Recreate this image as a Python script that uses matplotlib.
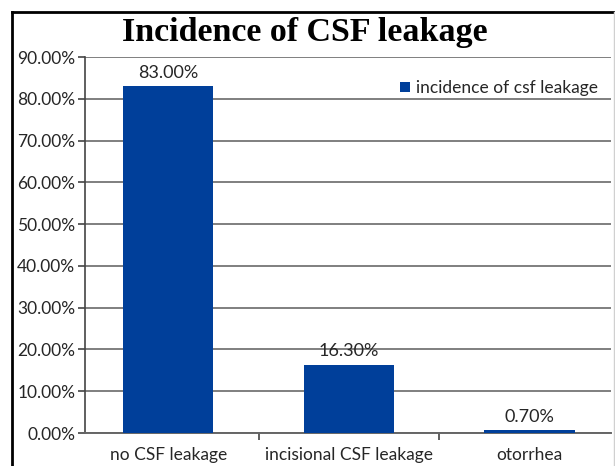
import matplotlib.pyplot as plt
from matplotlib.lines import Line2D

categories = ['no CSF leakage', 'incisional CSF leakage', 'otorrhea']
values = [83.0, 16.3, 0.7]
yticks = [0, 10, 20, 30, 40, 50, 60, 70, 80, 90]
series_name = 'incidence of csf leakage'

bar_color = '#003f9a'
grid_color = '#7f7f7f'
text_color = '#262626'

plt.rcParams['font.family'] = ['Lato', 'DejaVu Sans']

fig = plt.figure(figsize=(6.15, 4.66), dpi=100)
W, H = 615, 466
ax = fig.add_axes([85 / W, 1 - 433 / H, (611 - 85) / W, (433 - 57) / H])

x = range(len(categories))
ax.bar(x, values, width=0.5, color=bar_color, label=series_name, zorder=3)
for xi, v in zip(x, values):
    ax.annotate(f'{v:.2f}%', (xi, v), xytext=(0, 4), textcoords='offset points',
                ha='center', va='bottom', fontsize=13, color=text_color)

ax.set_xlim(-0.46, 2.45)
ax.set_ylim(0, 90)
ax.set_yticks(yticks)
ax.set_yticklabels([f'{t:.2f}%' for t in yticks], fontsize=12.5, color=text_color)
ax.set_xticks([0.5, 1.5])
ax.set_xticklabels([])
ax.set_xticks(list(x), minor=True)
ax.set_xticklabels(categories, minor=True, fontsize=12.5, color=text_color)
ax.tick_params(axis='x', which='minor', length=0, pad=10)
ax.tick_params(axis='x', which='major', length=5, color='#444444', width=1.2)
ax.tick_params(axis='y', length=5, color='#444444', width=1.2, pad=2)
ax.grid(axis='y', color=grid_color, linewidth=1.4, zorder=0)
for s in ['top', 'right']:
    ax.spines[s].set_visible(False)
ax.spines['left'].set_color('#444444')
ax.spines['bottom'].set_color('#666666')
ax.spines['left'].set_linewidth(1.2)
ax.spines['bottom'].set_linewidth(1.4)

ax.legend(loc='upper right', bbox_to_anchor=(1.005, 0.98), frameon=False,
          fontsize=12.5, handlelength=0.55, handleheight=0.55, handletextpad=0.35,
          labelcolor=text_color)

fig.text(305 / W, 1 - 32 / H, 'Incidence of CSF leakage', ha='center', va='center',
         fontsize=24.5, fontweight='bold', family='Liberation Serif')

fig.add_artist(Line2D([12 / W, 12 / W], [0, 1 - 12 / H], color='black', linewidth=2))
fig.add_artist(Line2D([12 / W, 1], [1 - 12 / H, 1 - 12 / H], color='black', linewidth=2))
fig.add_artist(Line2D([613.5 / W, 613.5 / W], [0, 1 - 12 / H], color='#d0d0d0', linewidth=1))

fig.savefig('out.png', dpi=100)
